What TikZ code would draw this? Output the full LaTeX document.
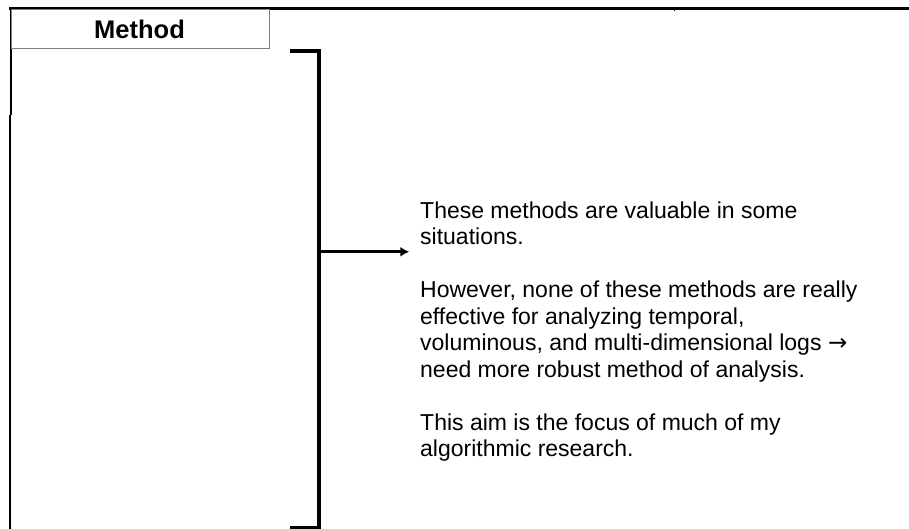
\documentclass[tikz,border=0pt]{standalone}
\usepackage{fontspec}
\setmainfont{Liberation Sans}
\newfontfamily\arrowfont{DejaVu Sans}
\usetikzlibrary{arrows.meta}
\begin{document}
\begin{tikzpicture}[x=1pt,y=-1pt,
  frameline/.style={line width=2.5pt,black},
  cellline/.style={line width=1pt,black!50},
  bracketline/.style={line width=3.6pt,black},
  arrowline/.style={line width=3pt,black,-{Latex[length=9pt,width=10pt]}},
  bodytext/.style={inner sep=0pt,align=left,font=\fontsize{23}{26.5}\selectfont},
  headtext/.style={inner sep=0pt,font=\fontsize{25.5}{28}\selectfont\bfseries}]
\useasboundingbox (0,0) rectangle (909,529);
% outer frame
\draw[frameline] (9,8.7) -- (909,8.7);
\draw[frameline] (11,8) -- (11,115);
\draw[frameline] (10.2,115) -- (10.2,529);
\draw[line width=0.8pt] (674,9) -- (674,11.5);
% header cell
\draw[cellline] (11,10) rectangle (269.3,48.3);
\node[headtext,anchor=base] (head) at (139.5,38.5) {Method};
% bracket
\coordinate (bt) at (290,50.8);
\coordinate (bb) at (290,527.5);
\coordinate (bm) at (318.7,251.8);
\draw[bracketline] (bt) -- (318.7,50.8) -- (318.7,527.5) -- (bb);
% text
\node[bodytext,anchor=base west] (txt) at (420,456.5) {These methods are valuable in some\\
situations.\\[26.5pt]
However, none of these methods are really\\
effective for analyzing temporal,\\
voluminous, and multi-dimensional logs {\arrowfont →}\\
need more robust method of analysis.\\[26.5pt]
This aim is the focus of much of my\\
algorithmic research.};
\coordinate (tip) at (409.3,251.8);
\draw[arrowline] (bm) -- (tip);
\end{tikzpicture}
\end{document}
